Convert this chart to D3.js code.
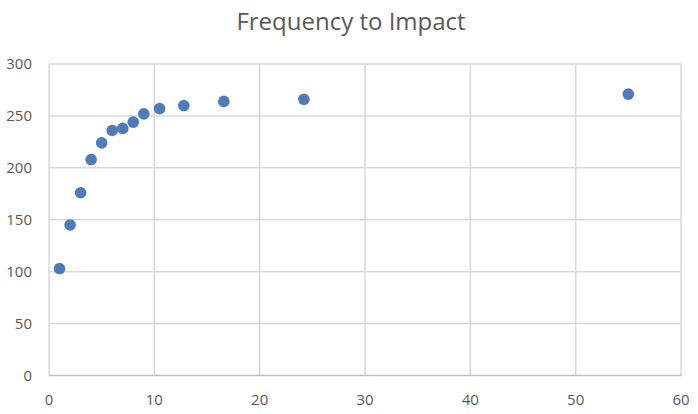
<!DOCTYPE html>
<html><head><meta charset="utf-8">
<script src="https://cdn.jsdelivr.net/npm/d3@7"></script>
<style>body{margin:0;background:#fff}svg{display:block;font-family:"Open Sans","Liberation Sans",sans-serif}</style>
</head><body>
<svg id="c" width="698" height="414"></svg>
<script>
const title = "Frequency to Impact";
const xValues = [1, 2, 3, 4, 5, 6, 7, 8, 9, 10.5, 12.8, 16.6, 24.2, 55];
const yValues = [103, 145, 176, 208, 224, 236, 238, 244, 252, 257, 260, 264, 266, 271];
const xTicks = [0, 10, 20, 30, 40, 50, 60];
const yTicks = [0, 50, 100, 150, 200, 250, 300];

const svg = d3.select("#c");
const x = d3.scaleLinear().domain([0, 60]).range([49, 681]);
const y = d3.scaleLinear().domain([0, 300]).range([375.5, 64]);

// gridlines
svg.append("g").selectAll("line.h").data(yTicks.filter(d => d > 0)).join("line")
  .attr("x1", x(0)).attr("x2", x(60)).attr("y1", d => y(d)).attr("y2", d => y(d))
  .attr("stroke", "#d9d9d9").attr("stroke-width", 1.5);
svg.append("g").selectAll("line.v").data(xTicks).join("line")
  .attr("x1", d => x(d)).attr("x2", d => x(d)).attr("y1", y(0)).attr("y2", y(300))
  .attr("stroke", "#d9d9d9").attr("stroke-width", 1.5);
// x axis line
svg.append("line").attr("x1", x(0)).attr("x2", x(60)).attr("y1", y(0)).attr("y2", y(0))
  .attr("stroke", "#bfbfbf").attr("stroke-width", 1.5);

// tick labels
svg.append("g").selectAll("text").data(yTicks).join("text")
  .attr("x", 32).attr("y", d => y(d)).attr("dy", "0.35em").attr("text-anchor", "end")
  .attr("font-size", 15).attr("fill", "#595959").text(d => d);
svg.append("g").selectAll("text").data(xTicks).join("text")
  .attr("x", d => x(d)).attr("y", 400).attr("dy", "0.35em").attr("text-anchor", "middle")
  .attr("font-size", 15).attr("fill", "#595959").text(d => d);

// title
svg.append("text").attr("x", 351).attr("y", 22).attr("dy", "0.35em").attr("text-anchor", "middle")
  .attr("font-size", 24).attr("fill", "#595959").text(title);

// points
svg.append("g").selectAll("circle").data(xValues.map((d, i) => [d, yValues[i]])).join("circle")
  .attr("cx", d => x(d[0])).attr("cy", d => y(d[1])).attr("r", 5.8)
  .attr("fill", "#4f7abb");
</script>
</body></html>
